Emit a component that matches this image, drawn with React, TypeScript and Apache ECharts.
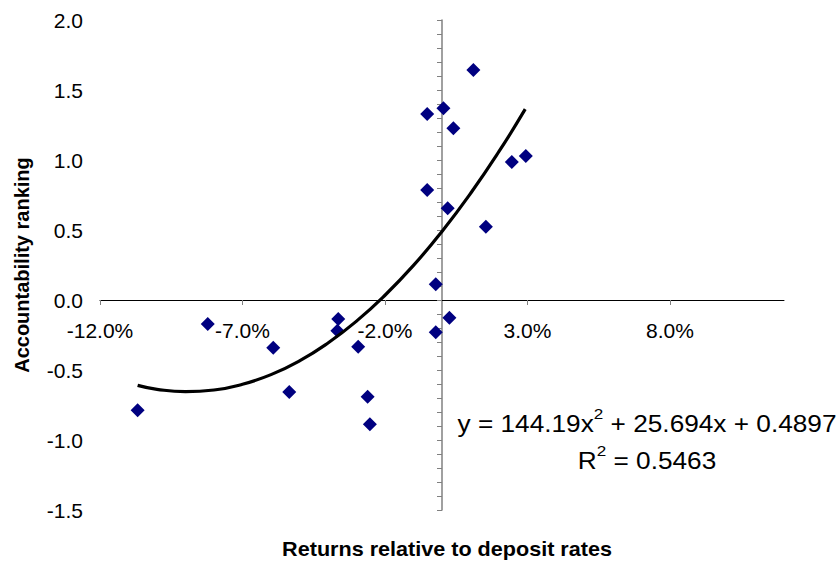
import React, { useEffect, useRef } from "react";
import * as echarts from "echarts";

const FONT = "'Liberation Sans', Arial, Helvetica, sans-serif";

// Scatter points: [returns relative to deposit rates (%), accountability ranking]
const points: [number, number][] = [
  [1.1, 1.643],
  [-0.52, 1.329],
  [0.05, 1.369],
  [0.4, 1.226],
  [2.45, 0.986],
  [2.94, 1.029],
  [-0.52, 0.786],
  [0.2, 0.655],
  [1.54, 0.524],
  [-0.22, 0.112],
  [0.26, -0.126],
  [-0.22, -0.231],
  [-3.64, -0.136],
  [-3.67, -0.219],
  [-2.94, -0.334],
  [-2.61, -0.691],
  [-2.53, -0.888],
  [-8.22, -0.171],
  [-5.92, -0.341],
  [-5.36, -0.657],
  [-10.68, -0.788],
];

// Polynomial trend line
const trend: [number, number][] = [
  [-10.68, -0.61],
  [-10, -0.638],
  [-9, -0.655],
  [-8, -0.643],
  [-7, -0.602],
  [-6, -0.533],
  [-5, -0.435],
  [-4, -0.307],
  [-3, -0.151],
  [-2, 0.034],
  [-1, 0.247],
  [0, 0.49],
  [1, 0.761],
  [2, 1.061],
  [2.92, 1.363],
];

const xTicks = [-12, -7, -2, 3, 8];
const yMin = -1.5;
const yMax = 2.0;
const xMin = -12;
const xMax = 12;

const equationLine1 = "y = 144.19x{sup|2} + 25.694x + 0.4897";
const equationLine2 = "R{sup|2} = 0.5463";
const xTitle = "Returns relative to deposit rates";
const yTitle = "Accountability ranking";

const GRID_TOP = 20;
const GRID_BOTTOM_PX = 510;

export default function App() {
  const ref = useRef<HTMLDivElement>(null);

  useEffect(() => {
    if (!ref.current) return;
    const chart = echarts.init(ref.current, null, { renderer: "svg" });
    // pixel position of value 0 on the y axis, to place the x axis there
    const zeroY = GRID_TOP + ((yMax - 0) / (yMax - yMin)) * (GRID_BOTTOM_PX - GRID_TOP);
    chart.setOption({
      animation: false,
      backgroundColor: "#ffffff",
      textStyle: { fontFamily: FONT },
      grid: {
        left: 100,
        right: 56,
        top: GRID_TOP,
        bottom: 563 - GRID_BOTTOM_PX,
        containLabel: false,
        outerBoundsMode: "none",
      },
      xAxis: {
        type: "value",
        min: xMin,
        max: xMax,
        interval: 5,
        position: "bottom",
        offset: zeroY - GRID_BOTTOM_PX,
        axisLine: { show: true, onZero: false, lineStyle: { color: "#000000", width: 1 } },
        axisTick: {
          show: true,
          length: 5,
          inside: false,
          customValues: xTicks,
          lineStyle: { color: "#808080" },
        },
        axisLabel: {
          customValues: xTicks,
          formatter: (v: number) => v.toFixed(1) + "%",
          margin: 20,
          fontSize: 21,
          color: "#000000",
          fontFamily: FONT,
        },
        splitLine: { show: false },
      },
      yAxis: [
        {
          type: "value",
          min: yMin,
          max: yMax,
          interval: 0.5,
          position: "left",
          axisLine: { show: false, onZero: false },
          axisTick: { show: false },
          axisLabel: {
            formatter: (v: number) => v.toFixed(1),
            fontSize: 21,
            margin: 17,
            color: "#000000",
            fontFamily: FONT,
          },
          splitLine: { show: false },
        },
        {
          type: "value",
          min: yMin,
          max: yMax,
          interval: 0.5,
          position: "left",
          axisLine: { show: true, onZero: true, lineStyle: { color: "#808080", width: 1.5 } },
          axisTick: { show: true, length: 5, inside: false, lineStyle: { color: "#808080" } },
          minorTick: { show: true, splitNumber: 5, length: 5, lineStyle: { color: "#808080" } },
          axisLabel: { show: false },
          splitLine: { show: false },
        },
      ],
      series: [
        {
          type: "scatter",
          yAxisIndex: 0,
          data: points,
          symbol: "diamond",
          symbolSize: 14,
          itemStyle: { color: "#000080", opacity: 1 },
          z: 2,
        },
        {
          type: "line",
          yAxisIndex: 0,
          data: trend,
          smooth: true,
          showSymbol: false,
          symbol: "none",
          lineStyle: { color: "#000000", width: 3.2 },
          z: 3,
        },
      ],
      graphic: [
        {
          type: "text",
          x: 22,
          y: 265,
          rotation: Math.PI / 2,
          style: {
            text: yTitle,
            fontSize: 20,
            fontWeight: "bold",
            fontFamily: FONT,
            fill: "#000000",
            align: "center",
            verticalAlign: "middle",
          },
        },
        {
          type: "text",
          x: 447,
          y: 549,
          scaleX: 1.08,
          style: {
            text: xTitle,
            fontSize: 20,
            fontWeight: "bold",
            fontFamily: FONT,
            fill: "#000000",
            align: "center",
            verticalAlign: "middle",
          },
        },
        {
          type: "text",
          x: 647,
          y: 443,
          scaleX: 1.14,
          style: {
            text: equationLine1 + "\n" + equationLine2,
            fontSize: 23,
            lineHeight: 37,
            fontFamily: FONT,
            fill: "#000000",
            align: "center",
            verticalAlign: "middle",
            rich: {
              sup: {
                fontSize: 15,
                lineHeight: 22,
                verticalAlign: "top",
                fontFamily: FONT,
                fill: "#000000",
              },
            },
          },
        },
      ],
    });
    return () => chart.dispose();
  }, []);

  return (
    <div
      ref={ref}
      style={{ position: "fixed", left: 0, top: 0, width: 840, height: 563 }}
    />
  );
}
